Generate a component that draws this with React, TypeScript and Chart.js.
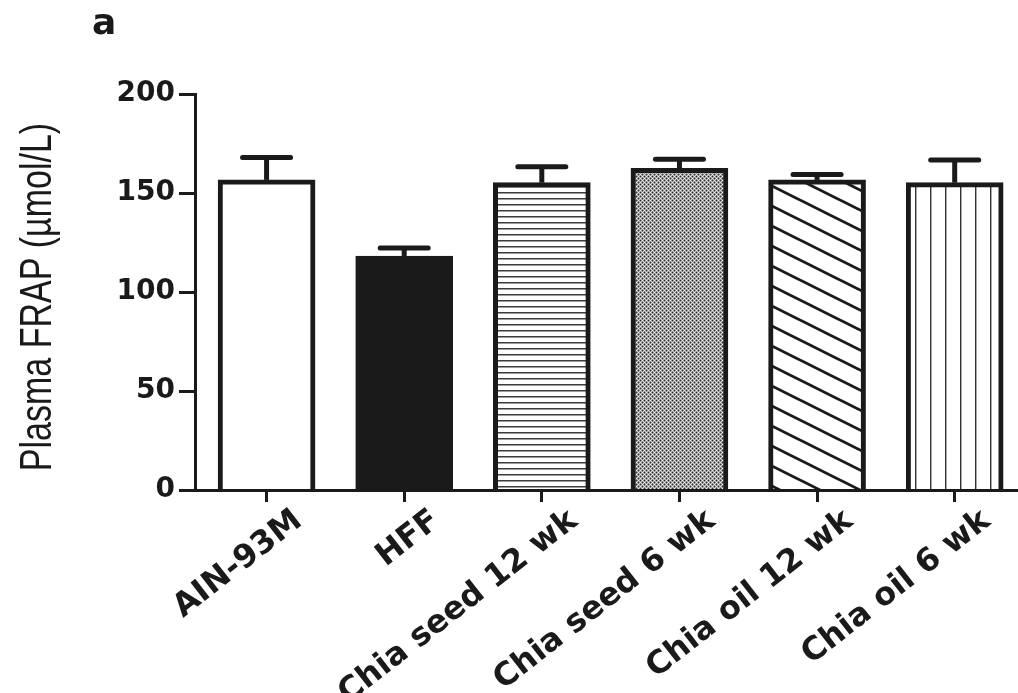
import React, { useEffect, useRef } from 'react';
import { Chart, registerables } from 'chart.js';

Chart.register(...registerables);

// Plasma FRAP by diet group (mean with upper error bar)
const categories = ['AIN-93M', 'HFF', 'Chia seed 12 wk', 'Chia seed 6 wk', 'Chia oil 12 wk', 'Chia oil 6 wk'];
const frapMean = [156.6, 118.2, 155.2, 162.5, 156.6, 155.2];
const frapError = [11.3, 4.0, 8.0, 4.6, 2.7, 11.5];
const yTicks = [0, 50, 100, 150, 200];
const yTitle = 'Plasma FRAP (µmol/L)';

const INK = '#1a1a1a';
const TICK_FONT = { family: "'DejaVu Sans'", weight: 'bold' as const, size: 28 };
const LABEL_FONT = { family: "'DejaVu Sans'", weight: 'bold' as const, size: 32 };

function makePattern(w: number, h: number, paint: (g: CanvasRenderingContext2D) => void) {
  const c = document.createElement('canvas');
  c.width = w;
  c.height = h;
  const g = c.getContext('2d') as CanvasRenderingContext2D;
  paint(g);
  return g.createPattern(c, 'repeat') as CanvasPattern;
}

function buildFills() {
  const horizontal = makePattern(8, 6, (g) => {
    g.fillStyle = '#ffffff';
    g.fillRect(0, 0, 8, 6);
    g.fillStyle = '#3c3c3c';
    g.fillRect(0, 0, 8, 1);
    g.fillStyle = '#9a9a9a';
    g.fillRect(0, 1, 8, 1);
  });

  const dots = makePattern(4, 4, (g) => {
    const D = '#2e2e2e', L = '#8e8e8e', W = '#f4f4f4', G = '#c6c6c6';
    const grid = [
      [D, L, W, L],
      [L, G, L, G],
      [W, L, D, L],
      [L, G, L, G],
    ];
    grid.forEach((row, y) => row.forEach((col, x) => {
      g.fillStyle = col;
      g.fillRect(x, y, 1, 1);
    }));
  });

  const diagonal = makePattern(40, 20, (g) => {
    g.fillStyle = '#ffffff';
    g.fillRect(0, 0, 40, 20);
    g.strokeStyle = INK;
    g.lineWidth = 2.8;
    [-20, 0, 20].forEach((o) => {
      g.beginPath();
      g.moveTo(-2, o - 1);
      g.lineTo(42, o + 21);
      g.stroke();
    });
  });

  const vertical = makePattern(15, 4, (g) => {
    g.fillStyle = '#ffffff';
    g.fillRect(0, 0, 15, 4);
    g.fillStyle = '#333333';
    g.fillRect(0, 0, 1, 4);
    g.fillStyle = '#a8a8a8';
    g.fillRect(1, 0, 1, 4);
  });

  return ['#ffffff', INK, horizontal, dots, diagonal, vertical];
}

// Upper error bars: stem from the bar top to a capped line at mean + error
const errorBars = {
  id: 'errorBars',
  afterDatasetsDraw(chart: any) {
    const { ctx, scales } = chart;
    const x = scales.x;
    const y = scales.y;
    ctx.save();
    ctx.strokeStyle = INK;
    ctx.lineWidth = 5;
    frapMean.forEach((m, i) => {
      const px = x.getPixelForValue(i);
      const base = y.getPixelForValue(m);
      const top = y.getPixelForValue(m + frapError[i]);
      ctx.lineCap = 'butt';
      ctx.beginPath();
      ctx.moveTo(px, base);
      ctx.lineTo(px, top);
      ctx.stroke();
      ctx.lineCap = 'round';
      ctx.beginPath();
      ctx.moveTo(px - 24, top);
      ctx.lineTo(px + 24, top);
      ctx.stroke();
    });
    ctx.restore();
  },
};

// Panel letter and the vertical axis title (drawn with taller glyphs)
const annotations = {
  id: 'annotations',
  afterDraw(chart: any) {
    const { ctx, chartArea } = chart;
    ctx.save();
    ctx.fillStyle = INK;
    ctx.font = "bold 36px 'DejaVu Sans'";
    ctx.textAlign = 'left';
    ctx.textBaseline = 'alphabetic';
    ctx.fillText('a', 92, 34);
    ctx.restore();

    ctx.save();
    ctx.fillStyle = INK;
    ctx.font = "34px 'Liberation Sans'";
    ctx.textAlign = 'center';
    ctx.textBaseline = 'middle';
    ctx.translate(39, (chartArea.top + chartArea.bottom) / 2 + 5);
    ctx.rotate(-Math.PI / 2);
    ctx.scale(1, 1.32);
    ctx.fillText(yTitle, 0, 0);
    ctx.restore();
  },
};

export default function App() {
  const canvasRef = useRef<HTMLCanvasElement | null>(null);

  useEffect(() => {
    const canvas = canvasRef.current;
    if (!canvas) return;
    const fills = buildFills();

    const chart = new Chart(canvas, {
      type: 'bar',
      data: {
        datasets: [
          {
            data: categories.map((_, i) => ({ x: i, y: frapMean[i] })),
            backgroundColor: fills as any,
            borderColor: INK,
            borderWidth: 5,
            barThickness: 97,
          },
        ],
      },
      options: {
        responsive: false,
        animation: false,
        devicePixelRatio: 1,
        layout: { padding: { top: 94, right: 0, bottom: 0, left: 0 } },
        plugins: {
          legend: { display: false },
          tooltip: { enabled: false },
        },
        scales: {
          x: {
            type: 'linear',
            offset: false,
            min: -0.52,
            max: 5.46,
            afterBuildTicks: (s: any) => {
              s.ticks = categories.map((_, i) => ({ value: i }));
            },
            afterFit: (s: any) => {
              s.height = 203;
            },
            ticks: {
              callback: (v: any) => categories[v as number] ?? '',
              minRotation: 38,
              maxRotation: 38,
              autoSkip: false,
              font: LABEL_FONT,
              color: INK,
              padding: 0,
              labelOffset: 32,
            },
            grid: {
              offset: false,
              drawOnChartArea: false,
              drawTicks: true,
              tickLength: 12,
              tickWidth: 3,
              tickColor: INK,
            },
            border: { display: true, width: 3, color: INK, z: 1 },
          },
          y: {
            min: 0,
            max: 200,
            afterBuildTicks: (s: any) => {
              s.ticks = yTicks.map((v) => ({ value: v }));
            },
            afterFit: (s: any) => {
              s.width = 195;
            },
            ticks: { font: TICK_FONT, color: INK, padding: 4 },
            grid: {
              drawOnChartArea: false,
              drawTicks: true,
              tickLength: 16,
              tickWidth: 3,
              tickColor: INK,
            },
            border: { display: true, width: 3, color: INK, z: 1 },
          },
        },
      },
      plugins: [errorBars, annotations],
    } as any);

    return () => chart.destroy();
  }, []);

  return (
    <div style={{ position: 'fixed', left: 0, top: 0, width: 1018, height: 693, background: '#ffffff' }}>
      <canvas ref={canvasRef} width={1018} height={693} style={{ display: 'block' }} />
    </div>
  );
}
